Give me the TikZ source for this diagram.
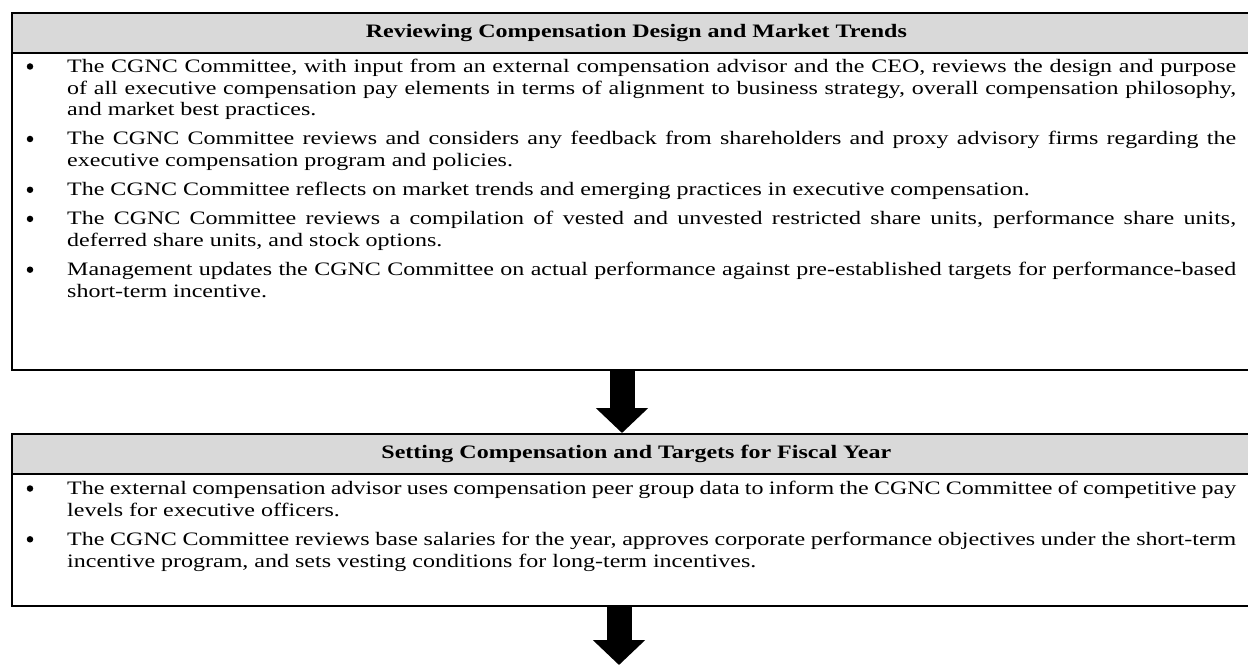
\documentclass[tikz,border=0pt]{standalone}
\usepackage{fontspec}
\setmainfont{Liberation Serif}[FakeStretch=1.263]
\usetikzlibrary{arrows.meta}
\definecolor{hdrgray}{HTML}{D9D9D9}
\tolerance=9999
\emergencystretch=20bp
\hyphenpenalty=10000
\exhyphenpenalty=10000
\begin{document}
\begin{tikzpicture}[x=1bp,y=-1bp,
  txt/.style={font=\fontsize{19bp}{21.7bp}\selectfont},
  hdr/.style={draw=black, line width=1.6bp, fill=hdrgray, minimum width=1249bp, minimum height=40bp, anchor=north west, inner sep=0pt, font=\fontsize{19bp}{21.7bp}\selectfont\bfseries},
  body/.style={draw=black, line width=1.6bp, minimum width=1249bp, anchor=north west, inner sep=0pt},
  itemtext/.style={txt, anchor=base west, inner sep=0pt, text width=1169bp, align=justify},
  dot/.style={circle, fill=black, inner sep=0pt, minimum size=6.5bp},
  blockarrow/.style={line width=25bp, -{Triangle[width=51bp 0, length=25bp 0]}}
]
\useasboundingbox (0,0) rectangle (1248,665);
\clip (0,0) rectangle (1248,665);

% ---- Box 1 ----
\node[body, minimum height=317bp] (body1) at (11,52) {};
\node[hdr] (hdr1) at (11,12) {Reviewing Compensation Design and Market Trends};

\node[itemtext] (i11) at (67,72.5) {The CGNC Committee, with input from an external compensation advisor and the CEO, reviews the design and purpose\linebreak of all executive compensation pay elements in terms of alignment to business strategy, overall compensation philosophy,\linebreak and market best practices.};
\node[dot] (d11) at (30,66.5) {};

\node[itemtext] (i12) at (67,145.0) {The CGNC Committee reviews and considers any feedback from shareholders and proxy advisory firms regarding the\linebreak executive compensation program and policies.};
\node[dot] (d12) at (30,139.0) {};

\node[itemtext] (i13) at (67,195.8) {The CGNC Committee reflects on market trends and emerging practices in executive compensation.};
\node[dot] (d13) at (30,189.8) {};

\node[itemtext] (i14) at (67,224.9) {The CGNC Committee reviews a compilation of vested and unvested restricted share units, performance share units,\linebreak deferred share units, and stock options.};
\node[dot] (d14) at (30,218.9) {};

\node[itemtext] (i15) at (67,275.7) {Management updates the CGNC Committee on actual performance against pre-established targets for performance-based\linebreak short-term incentive.};
\node[dot] (d15) at (30,269.7) {};

% ---- Box 2 ----
\node[body, minimum height=132bp] (body2) at (11,473) {};
\node[hdr] (hdr2) at (11,433) {Setting Compensation and Targets for Fiscal Year};

\node[itemtext] (i21) at (67,494.5) {The external compensation advisor uses compensation peer group data to inform the CGNC Committee of competitive pay\linebreak levels for executive officers.};
\node[dot] (d21) at (30,488.5) {};

\node[itemtext] (i22) at (67,545.3) {The CGNC Committee reviews base salaries for the year, approves corporate performance objectives under the short-term\linebreak incentive program, and sets vesting conditions for long-term incentives.};
\node[dot] (d22) at (30,539.3) {};

% ---- Arrows ----
\coordinate (ax1) at (622,0);
\coordinate (ax2) at (619,0);
\coordinate (end2) at (619,665);
\draw[blockarrow] (body1.south -| ax1) -- (hdr2.north -| ax1);
\draw[blockarrow] (body2.south -| ax2) -- (end2);
\end{tikzpicture}
\end{document}
